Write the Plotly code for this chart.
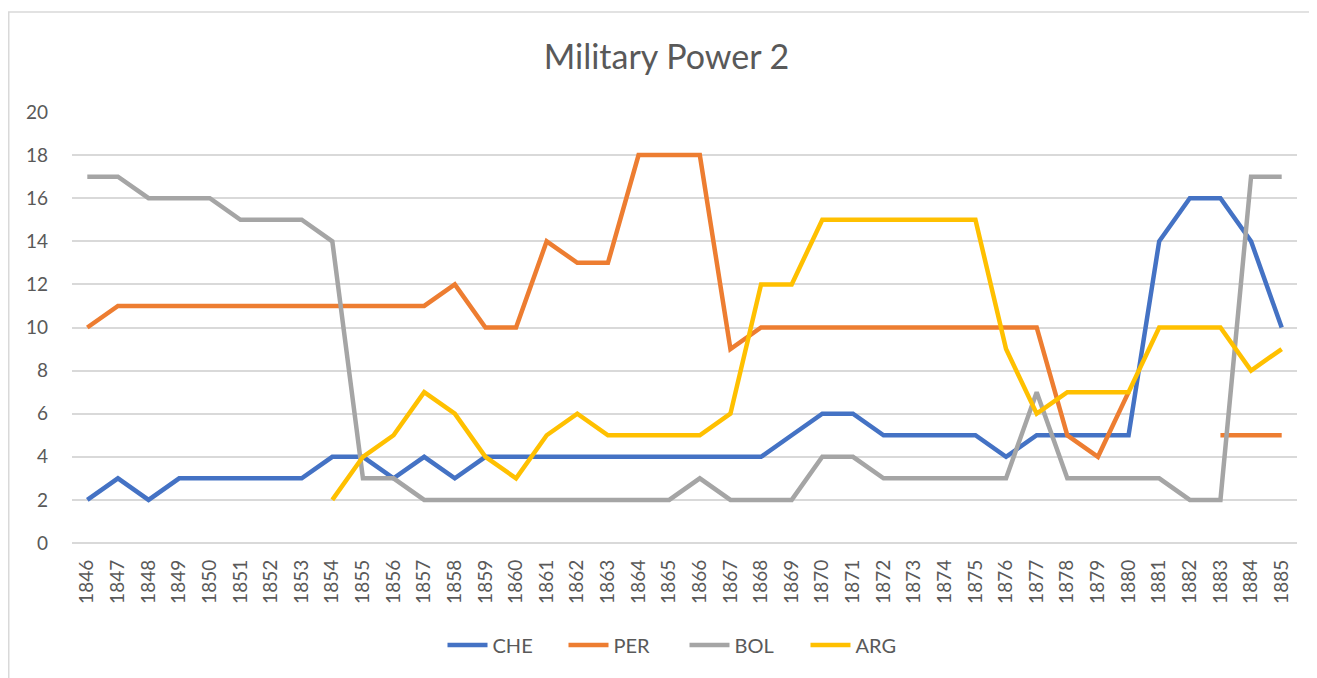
import plotly.graph_objects as go

years = [str(y) for y in range(1846, 1886)]

che = [2, 3, 2, 3, 3, 3, 3, 3, 4, 4, 3, 4, 3, 4, 4, 4, 4, 4, 4, 4, 4, 4, 4, 5,
       6, 6, 5, 5, 5, 5, 4, 5, 5, 5, 5, 14, 16, 16, 14, 10]
per = [10, 11, 11, 11, 11, 11, 11, 11, 11, 11, 11, 11, 12, 10, 10, 14, 13, 13, 18, 18,
       18, 9, 10, 10, 10, 10, 10, 10, 10, 10, 10, 10, 5, 4, 7, None, None, 5, 5, 5]
bol = [17, 17, 16, 16, 16, 15, 15, 15, 14, 3, 3, 2, 2, 2, 2, 2, 2, 2, 2, 2,
       3, 2, 2, 2, 4, 4, 3, 3, 3, 3, 3, 7, 3, 3, 3, 3, 2, 2, 17, 17]
arg = [None, None, None, None, None, None, None, None, 2, 4, 5, 7, 6, 4, 3, 5, 6, 5, 5, 5,
       5, 6, 12, 12, 15, 15, 15, 15, 15, 15, 9, 6, 7, 7, 7, 10, 10, 10, 8, 9]

series = [("CHE", che, "#4472C4"), ("PER", per, "#ED7D31"),
          ("BOL", bol, "#A5A5A5"), ("ARG", arg, "#FFC000")]

font_family = "Lato, 'Open Sans', sans-serif"
txt = "#595959"

W, H = 1317, 678
L, R, T, B = 64, 28, 104, 143
PW, PH = W - L - R, H - T - B

fig = go.Figure()
for name, vals, col in series:
    fig.add_trace(go.Scatter(x=years, y=vals, name=name, mode="lines",
                             line=dict(color=col, width=4.5, shape="linear"),
                             connectgaps=False))

fig.update_layout(
    width=W, height=H,
    paper_bgcolor="white", plot_bgcolor="white",
    margin=dict(l=L, r=R, t=T, b=B),
    title=dict(text="Military Power 2", x=0.5, xanchor="center", y=1 - 49 / H,
               yanchor="middle", font=dict(family=font_family, size=34, color=txt)),
    font=dict(family=font_family, color=txt),
    showlegend=True,
    legend=dict(orientation="h", x=0.5, xanchor="center", y=1 - (637 - T) / PH,
                yanchor="middle",
                font=dict(family=font_family, size=20, color=txt),
                itemwidth=40, tracegroupgap=0,
                entrywidth=66, entrywidthmode="pixels"),
    xaxis=dict(type="category", range=[-0.5, 39.5], showgrid=False, zeroline=False,
               showline=False, tickangle=-90, ticks="",
               tickfont=dict(family=font_family, size=19, color=txt),
               ticklabelstandoff=12),
    yaxis=dict(range=[0, 20], tickvals=list(range(0, 21, 2)), showgrid=True,
               gridcolor="#D9D9D9", gridwidth=1.5, zeroline=True, zerolinecolor="#D9D9D9",
               zerolinewidth=1.5, showline=False, ticks="",
               tickfont=dict(family=font_family, size=19, color=txt),
               ticklabelstandoff=23),
    shapes=[dict(type="rect", xref="paper", yref="paper",
                 x0=(0.75 - L) / PW, x1=(W + 20 - L) / PW,
                 y0=1 - (H + 20 - T) / PH, y1=1 + (T - 4) / PH,
                 line=dict(color="#D9D9D9", width=1.5), fillcolor="rgba(0,0,0,0)",
                 layer="below")],
)

fig.write_html("out.html")
